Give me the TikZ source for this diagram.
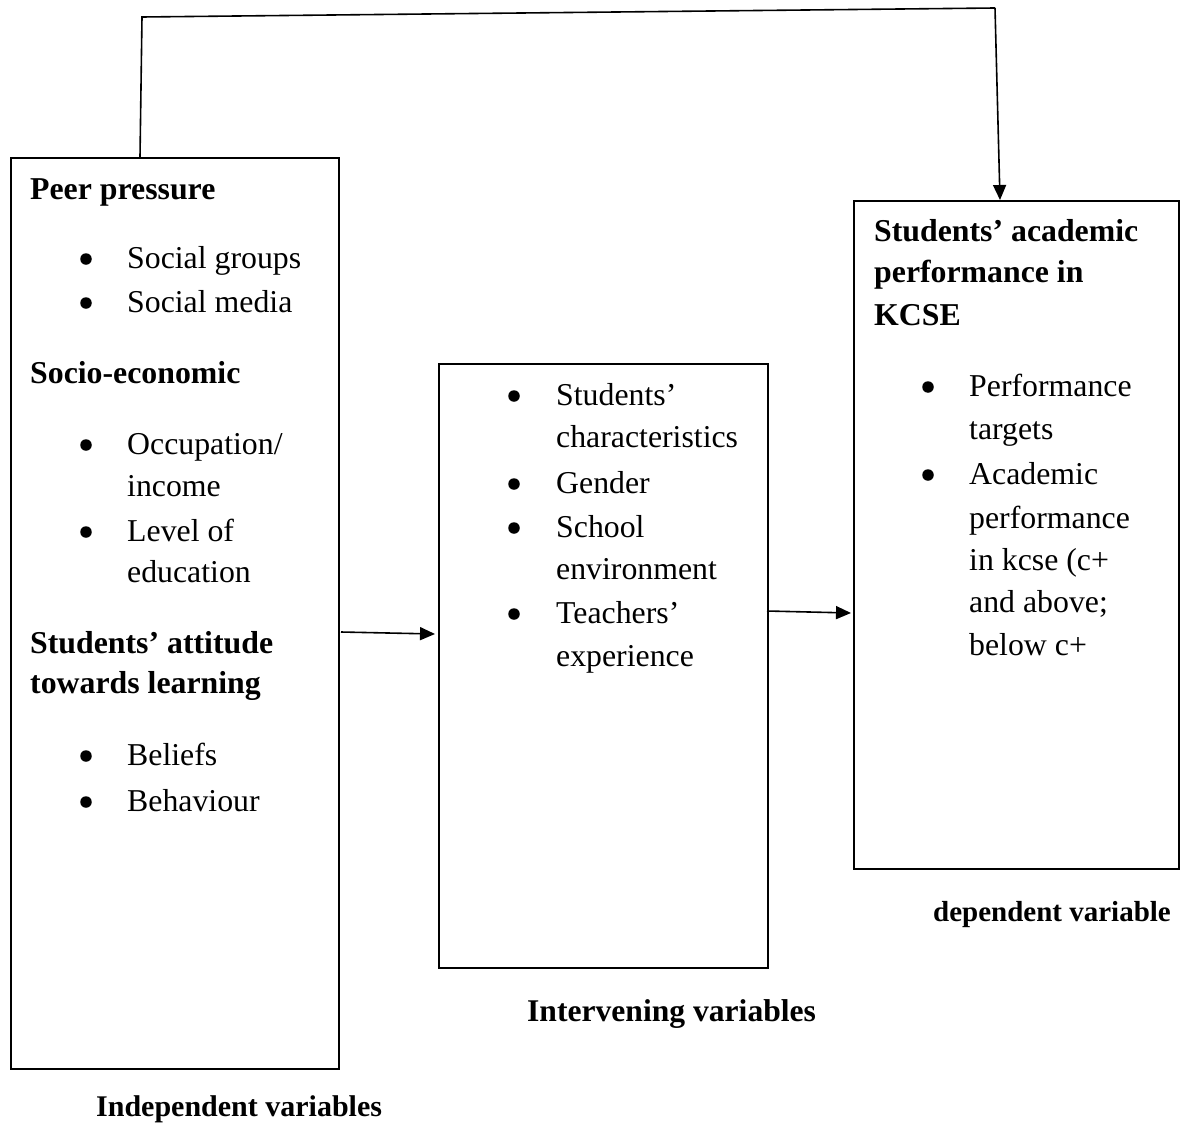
\documentclass[tikz,border=0pt]{standalone}
\usepackage{fontspec}
\setmainfont{Liberation Serif}
\usetikzlibrary{arrows.meta}
\begin{document}
\begin{tikzpicture}[x=1pt,y=-1pt,
  box/.style={draw,line width=1.6pt,anchor=north west,inner sep=0pt,minimum width=#1},
  txt/.style={anchor=base west,inner sep=0pt,font=\fontsize{31.8pt}{43pt}\selectfont},
  btxt/.style={txt,font=\fontsize{31.8pt}{43pt}\selectfont\bfseries},
  bul/.style={circle,fill,inner sep=0pt,minimum size=11.5pt},
  arr/.style={line width=1.6pt,-{Triangle[length=15pt,width=13pt]}},
  conn/.style={line width=1.6pt}]
\useasboundingbox (0,0) rectangle (1180,1124);
% boxes
\node[box=328pt,minimum height=911pt] (ind) at (10,157) {};
\node[box=329pt,minimum height=604pt] (int) at (438,363) {};
\node[box=325pt,minimum height=668pt] (dep) at (853,200) {};
% left box text
\node[btxt] (p1) at (30,199) {Peer pressure};
\node[bul] (b1) at (86,259) {};
\node[txt] (p2) at (127,268) {Social groups};
\node[bul] (b2) at (86,303) {};
\node[txt] (p3) at (127,312) {Social media};
\node[btxt] (p4) at (30,383) {Socio-economic};
\node[bul] (b3) at (86,445) {};
\node[txt] (p5) at (127,454) {Occupation/};
\node[txt] (p6) at (127,496) {income};
\node[bul] (b4) at (86,532) {};
\node[txt] (p7) at (127,541) {Level of};
\node[txt] (p8) at (127,582) {education};
\node[btxt] (p9) at (30,653) {Students’ attitude};
\node[btxt] (p10) at (30,693) {towards learning};
\node[bul] (b5) at (86,756) {};
\node[txt] (p11) at (127,765) {Beliefs};
\node[bul] (b6) at (86,802) {};
\node[txt] (p12) at (127,811) {Behaviour};
% middle box text
\node[bul] (m1b) at (514,396) {};
\node[txt] (m1) at (556,405) {Students’};
\node[txt] (m2) at (556,447) {characteristics};
\node[bul] (m3b) at (514,484) {};
\node[txt] (m3) at (556,493) {Gender};
\node[bul] (m4b) at (514,528) {};
\node[txt] (m4) at (556,537) {School};
\node[txt] (m5) at (556,579) {environment};
\node[bul] (m6b) at (514,614) {};
\node[txt] (m6) at (556,623) {Teachers’};
\node[txt] (m7) at (556,666) {experience};
% right box text
\node[btxt] (r1) at (874,241) {Students’ academic};
\node[btxt] (r2) at (874,282) {performance in};
\node[btxt] (r3) at (874,325) {KCSE};
\node[bul] (r4b) at (928,387) {};
\node[txt] (r4) at (969,396) {Performance};
\node[txt] (r5) at (969,439) {targets};
\node[bul] (r6b) at (928,475) {};
\node[txt] (r6) at (969,484) {Academic};
\node[txt] (r7) at (969,528) {performance};
\node[txt] (r8) at (969,570) {in kcse (c+};
\node[txt] (r9) at (969,612) {and above;};
\node[txt] (r10) at (969,655) {below c+};
% labels
\node[anchor=base west,inner sep=0pt,font=\fontsize{30pt}{36pt}\selectfont\bfseries] (lind) at (96,1116) {Independent variables};
\node[anchor=base west,inner sep=0pt,font=\fontsize{31.6pt}{36pt}\selectfont\bfseries] (lint) at (527,1021) {Intervening variables};
\node[anchor=base west,inner sep=0pt,font=\fontsize{29pt}{36pt}\selectfont\bfseries] (ldep) at (933,921) {dependent variable};
% connectors
\coordinate (s0) at (140,157);
\coordinate (c1) at (142,17);
\coordinate (c2) at (995,8);
\coordinate (t0) at (1000,200);
\draw[conn] (s0) -- (c1) -- (c2);
\draw[arr] (c2) -- (t0);
\coordinate (a1s) at (341,632);
\coordinate (a1e) at (435,634);
\draw[arr] (a1s) -- (a1e);
\coordinate (a2s) at (767,611);
\coordinate (a2e) at (851,613);
\draw[arr] (a2s) -- (a2e);
\end{tikzpicture}
\end{document}
